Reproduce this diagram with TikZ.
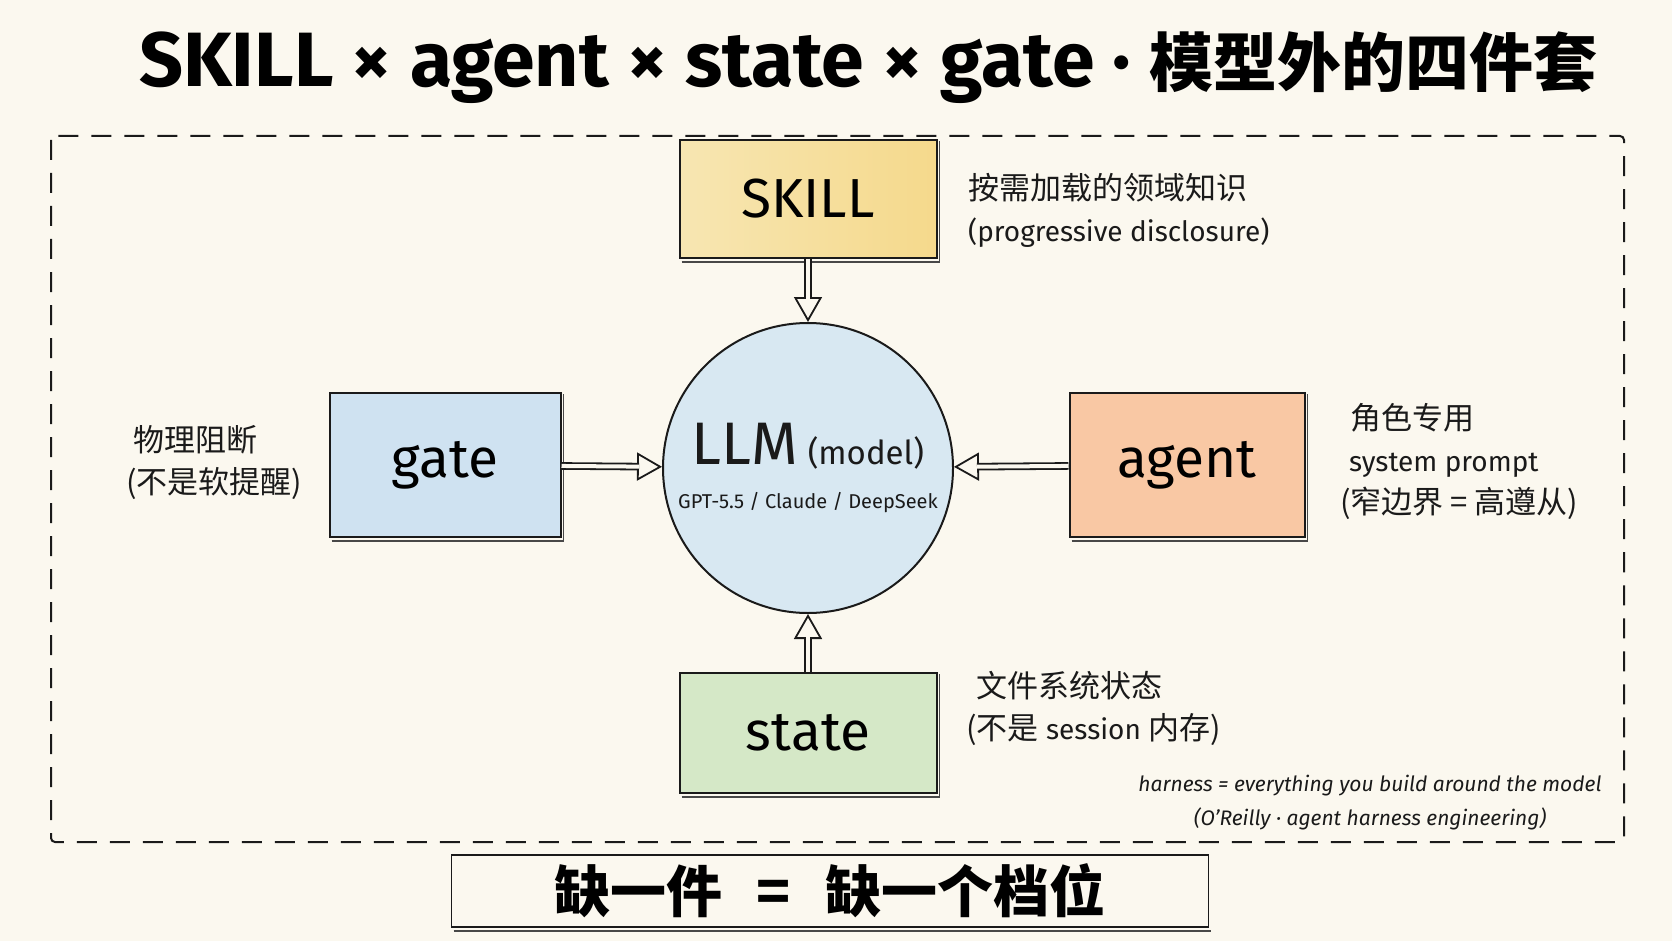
\documentclass[tikz,border=0pt]{standalone}
\usepackage{fontspec}
\setmainfont{Fira Sans}
\newfontfamily\cjk{Noto Sans CJK SC}
\newcommand{\cjkn}{\cjk\fontsize{31}{42}\selectfont}
\usetikzlibrary{arrows.meta,calc}
\definecolor{bg}{HTML}{FBF8EF}
\definecolor{ink}{HTML}{1A1A1A}
\definecolor{skillA}{HTML}{F7E6B2}
\definecolor{skillB}{HTML}{F5D98C}
\definecolor{gatefill}{HTML}{CFE2F1}
\definecolor{agentfill}{HTML}{F9C8A4}
\definecolor{statefill}{HTML}{D5E8C7}
\definecolor{llmfill}{HTML}{D8E8F2}
\tikzset{
  box/.style={draw=ink, line width=2pt, inner sep=0pt, font=\fontsize{55}{55}\selectfont},
  anote/.style={align=left, inner sep=0pt, text=ink, font=\fontsize{28}{42}\selectfont},
  headarrow/.style={draw=ink, line width=1.8pt, -{Triangle[open, length=25pt, width=28pt, line width=1.8pt]}},
  shaft/.style={draw=ink, line width=1.8pt, double=bg, double distance=4pt, shorten >=23pt},
  shadowline/.style={draw=ink!80, line width=1.3pt},
}
\begin{document}
\begin{tikzpicture}[x=1pt,y=-1pt]
\fill[bg] (0,0) rectangle (1672,941);
\useasboundingbox (0,0) rectangle (1672,941);

% title
\node[anchor=base west, inner sep=0pt, text=black, font=\fontsize{77}{77}\selectfont\bfseries] (title) at (139,87)
  {SKILL × agent × state × gate · {\cjk\bfseries\fontsize{64}{64}\selectfont 模型外的四件套}};

% dashed frame
\draw[ink, line width=2pt, dash pattern=on 20pt off 13pt, rounded corners=4pt] (51,136) rectangle (1624,842);

% boxes
\node[box, minimum width=257pt, minimum height=118pt, left color=skillA, right color=skillB] (skill) at (808,199) {SKILL};
\node[box, minimum width=231pt, minimum height=144pt, fill=gatefill] (gate) at (445,465) {gate};
\node[box, minimum width=235pt, minimum height=144pt, fill=agentfill] (agent) at (1187,465) {agent};
\node[box, minimum width=257pt, minimum height=120pt, fill=statefill] (state) at (808,733) {state};
\foreach \b in {skill,gate,agent,state}{
  \draw[shadowline] ([xshift=3pt,yshift=-3pt]\b.south west) -- ([xshift=2pt,yshift=-3pt]\b.south east) -- ([xshift=2pt,yshift=-2pt]\b.north east);
}

% LLM
\node[circle, draw=ink, line width=2pt, fill=llmfill, minimum size=290pt, inner sep=0pt, align=center, text=ink] (llm) at (808,468)
  {{\fontsize{60}{60}\selectfont LLM\,\fontsize{33}{33}\selectfont (model)}\\[22pt]{\fontsize{20}{24}\selectfont GPT-5.5 / Claude / DeepSeek}};

% arrows
\foreach \s in {skill,gate,agent,state}{
  \draw[headarrow] (\s) -- (llm);
  \draw[shaft] (\s) -- (llm);
}

% notes
\node[anote, anchor=west] (skillnote) at (968,210) {{\cjkn 按需加载的领域知识}\\(progressive disclosure)};
\node[anote, anchor=west] (gatenote) at (126,462) {\hspace*{7pt}{\cjkn 物理阻断}\\{\cjkn (不是软提醒)}};
\node[anote, anchor=west] (agentnote) at (1340,461) {\hspace*{10pt}{\cjkn 角色专用}\\\hspace*{9pt}system prompt\\{\cjkn (窄边界 = 高遵从)}};
\node[anote, anchor=west] (statenote) at (966,708) {\hspace*{10pt}{\cjkn 文件系统状态}\\{\cjkn (不是} session {\cjkn 内存)}};

\node[align=center, inner sep=0pt, text=ink, font=\fontsize{21}{34}\selectfont\itshape] (harness) at (1370,803)
  {harness = everything you build around the model\\(O’Reilly · agent harness engineering)};

% motto
\node[draw=ink, line width=1.8pt, minimum width=757pt, minimum height=72pt, inner sep=0pt, text=black,
  font=\cjk\bfseries\fontsize{56}{56}\selectfont] (motto) at (830,891) {缺一件\hspace{34pt}=\hspace{34pt}缺一个档位};
\draw[shadowline] ([xshift=3pt,yshift=-3pt]motto.south west) -- ([xshift=2pt,yshift=-3pt]motto.south east);
\end{tikzpicture}
\end{document}
